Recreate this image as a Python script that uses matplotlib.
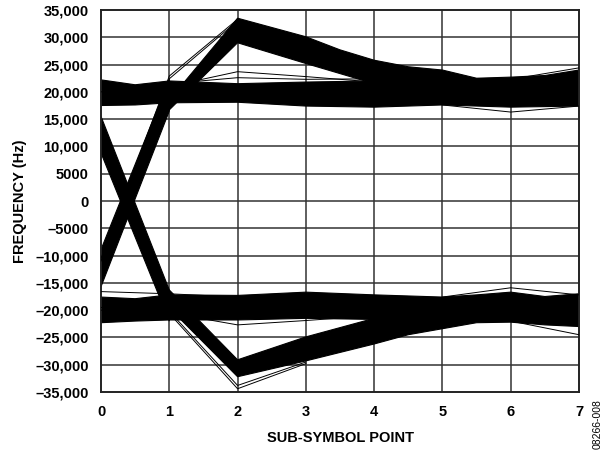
import numpy as np
import matplotlib
matplotlib.use("Agg")
import matplotlib.pyplot as plt

plt.rcParams["font.family"] = ["Liberation Sans", "DejaVu Sans"]

# y tick labels as printed on the chart
y_ticks = [35000, 30000, 25000, 20000, 15000, 10000, 5000, 0,
           -5000, -10000, -15000, -20000, -25000, -30000, -35000]
y_tick_labels = ["35,000", "30,000", "25,000", "20,000", "15,000", "10,000",
                 "5000", "0", "\u20135000", "\u201310,000", "\u201315,000",
                 "\u201320,000", "\u201325,000", "\u201330,000", "\u201335,000"]
x_ticks = [0, 1, 2, 3, 4, 5, 6, 7]

# band envelopes (edges of the dense trace bundles), Hz
# upper steady tone (+20 kHz)
a_top_x = [0, 0.5, 1, 2, 3, 4, 7]
a_top_y = [22200, 21300, 22000, 21500, 21800, 22000, 22000]
a_bot_x = [0, 0.5, 1, 2, 3, 4, 5, 6, 7]
a_bot_y = [17500, 17600, 18000, 18100, 17400, 17200, 17600, 17200, 17400]

# rising transition (0 -> 1)
b1_top_x = [0, 1]
b1_top_y = [-8900, 22300]
b1_bot_x = [0, 1]
b1_bot_y = [-15700, 16500]

# overshoot after the rise and settle (1 -> 7)
b2_top_x = [1, 2, 3, 3.5, 4, 4.5, 5, 5.5, 6, 6.5, 7]
b2_top_y = [18500, 33500, 30100, 27700, 25800, 24600, 24000,
            22500, 22700, 23000, 24000]
b2_bot_x = [1, 2, 3, 4, 7]
b2_bot_y = [16700, 29000, 25200, 21500, 19000]

# falling transition (0 -> 1)
c1_top_x = [0, 1]
c1_top_y = [15500, -16300]
c1_bot_x = [0, 1]
c1_bot_y = [8800, -22000]

# undershoot after the fall and settle (1 -> 7)
c2_top_x = [1, 2, 3, 4, 7]
c2_top_y = [-16300, -29100, -24900, -21500, -19000]
c2_bot_x = [1, 2, 3, 4, 4.5, 5, 5.5, 6, 6.5, 7]
c2_bot_y = [-19600, -32200, -29300, -26200, -24500, -23400,
            -22300, -22200, -22700, -23000]

# lower steady tone (-20 kHz)
d_top_x = [0, 0.5, 1, 2, 3, 4, 5, 5.5, 6, 6.5, 7]
d_top_y = [-17600, -17900, -17200, -17300, -16700, -17200, -17600,
           -17200, -16700, -17500, -17000]
d_bot_x = [0, 0.5, 1, 2, 3, 4, 7]
d_bot_y = [-22300, -22000, -21800, -21800, -21500, -21700, -22000]

# a few stray single traces outside the bundles
stray_traces = [
    ([0, 1, 2, 3], [-11000, 22400, 33000, 29500]),
    ([0, 1, 2, 3], [-10500, 22900, 33300, 29800]),
    ([0, 1, 2, 3, 4], [20000, 21000, 23700, 22800, 21800]),
    ([1, 2, 3, 4], [21500, 22600, 22300, 22400]),
    ([0, 1, 2, 3], [-20000, -20600, -34400, -29800]),
    ([0, 1, 2, 3], [-19500, -20200, -33800, -29500]),
    ([0, 1, 2], [-16600, -17000, -17600]),
    ([1, 2, 3, 4], [-20500, -22700, -21900, -21000]),
    ([5, 6, 7], [-17600, -15900, -17200]),
    ([5, 6, 7], [-21800, -22000, -24500]),
    ([5, 6, 7], [22500, 22300, 24400]),
    ([5, 6, 7], [17600, 16300, 17400]),
    ([3, 4, 5], [-21000, -21600, -22200]),
]

bands = [
    (a_top_x, a_top_y, a_bot_x, a_bot_y),
    (b1_top_x, b1_top_y, b1_bot_x, b1_bot_y),
    (b2_top_x, b2_top_y, b2_bot_x, b2_bot_y),
    (c1_top_x, c1_top_y, c1_bot_x, c1_bot_y),
    (c2_top_x, c2_top_y, c2_bot_x, c2_bot_y),
    (d_top_x, d_top_y, d_bot_x, d_bot_y),
]

fig = plt.figure(figsize=(6.07, 4.51), dpi=100)
ax = fig.add_axes([0.1664, 0.1308, 0.7875, 0.847])

ax.set_xlim(0, 7)
ax.set_ylim(-35000, 35000)

# grid
for xv in x_ticks[1:-1]:
    ax.axvline(xv, color="#333333", lw=1.1, zorder=1)
for yv in y_ticks[1:-1]:
    ax.axhline(yv, color="#333333", lw=1.1, zorder=1)

# trace bundles
for tx, ty, bx, by in bands:
    px = np.r_[tx, bx[::-1]]
    py = np.r_[ty, by[::-1]]
    ax.fill(px, py, color="black", lw=0.8, edgecolor="black", zorder=2)

for sx, sy in stray_traces:
    ax.plot(sx, sy, color="black", lw=0.7, zorder=3)

ax.set_xticks(x_ticks)
ax.set_xticklabels([str(v) for v in x_ticks], fontsize=10.5, fontweight="bold")
ax.set_yticks(y_ticks)
ax.set_yticklabels(y_tick_labels, fontsize=10.5, fontweight="bold")
ax.tick_params(length=0, pad=9)

for sp in ax.spines.values():
    sp.set_linewidth(1.4)
    sp.set_color("#222222")

ax.set_xlabel("SUB-SYMBOL POINT", fontsize=10.5, fontweight="bold", labelpad=9)
ax.set_ylabel("FREQUENCY (Hz)", fontsize=10.5, fontweight="bold", labelpad=6)

fig.text(0.985, 0.06, "08266-008", rotation=90, fontsize=7.5,
         ha="center", va="center")

fig.savefig("out.png", dpi=100)
